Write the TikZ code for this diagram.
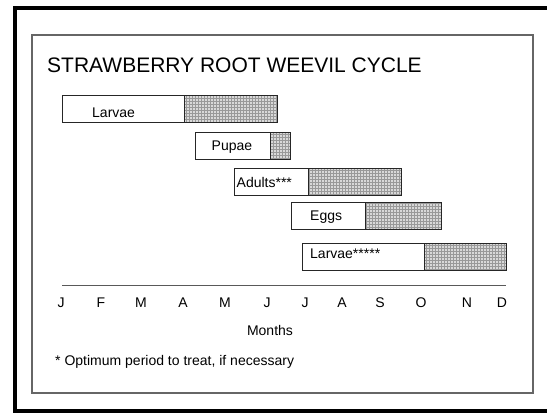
\documentclass[tikz,border=0pt]{standalone}
\usepackage{fontspec}
\setmainfont{Liberation Sans}
\usetikzlibrary{patterns}

\tikzset{
  fase/.style={draw=black!85, line width=0.8pt, fill=white, minimum height=27pt,
    inner sep=0pt, outer sep=0pt, anchor=west},
  cura/.style={fase, preaction={fill=black!15}, pattern=grid, pattern color=black!40},
  etichetta/.style={font=\fontsize{14}{16}\selectfont, inner sep=0pt},
}

\begin{document}
\begin{tikzpicture}[x=1pt,y=-1pt]
        \useasboundingbox (0,0) rectangle (547,413);
        % Cornici
        \draw [line width=4pt] (550,8) -- (14.5,8) -- (14.5,410.5) -- (550,410.5);
        \draw [black!60, line width=1.5pt] (32,35) rectangle (533,393);
        % Titolo
        \node [font=\fontsize{21}{24}\selectfont, inner sep=0pt, anchor=base west] (titolo) at (47,72) {STRAWBERRY ROOT WEEVIL CYCLE};
        % Barre
        \node [fase, minimum width=122pt] (larve) at (62,109) {};
        \node [cura, minimum width=93pt] (larveT) at (184,109) {};
        \node [fase, minimum width=75pt] (pupe) at (195,145.5) {};
        \node [cura, minimum width=20pt] (pupeT) at (270,145.5) {};
        \node [fase, minimum width=73.5pt] (adulti) at (234.5,181.5) {};
        \node [cura, minimum width=93.5pt] (adultiT) at (308,181.5) {};
        \node [fase, minimum width=74pt] (uova) at (291.5,216) {};
        \node [cura, minimum width=76pt] (uovaT) at (365.5,216) {};
        \node [fase, minimum width=121.5pt] (larve2) at (302.5,256.5) {};
        \node [cura, minimum width=82pt] (larve2T) at (424,256.5) {};
        % Nomi
        \node [etichetta, anchor=base west] (larveL) at (92,117) {Larvae};
        \node [etichetta, anchor=base west] (pupeL) at (211.5,150.5) {Pupae};
        \node [etichetta, anchor=base west] (adultiL) at (236.5,187.5) {Adults***};
        \node [etichetta, anchor=base west] (uovaL) at (310,220.5) {Eggs};
        \node [etichetta, anchor=base west] (larve2L) at (310,258.5) {Larvae*****};
        % Asse
        \coordinate (asseA) at (62,285.5);
        \coordinate (asseB) at (506,285.5);
        \draw [black!65, line width=1.2pt] (asseA) -- (asseB);
        \foreach \m/\x in {J/61,F/101,M/141,A/183,M/225,J/267,J/305,A/342,S/380,O/421,N/467,D/502}
          \node [etichetta, anchor=base] (mese-\x) at (\x,307) {\m};
        \node [etichetta, anchor=base] (mesi) at (270,335) {Months};
        % Nota
        \node [etichetta, anchor=base west] (nota) at (55,365) {* Optimum period to treat, if necessary};
    \end{tikzpicture}
\end{document}
